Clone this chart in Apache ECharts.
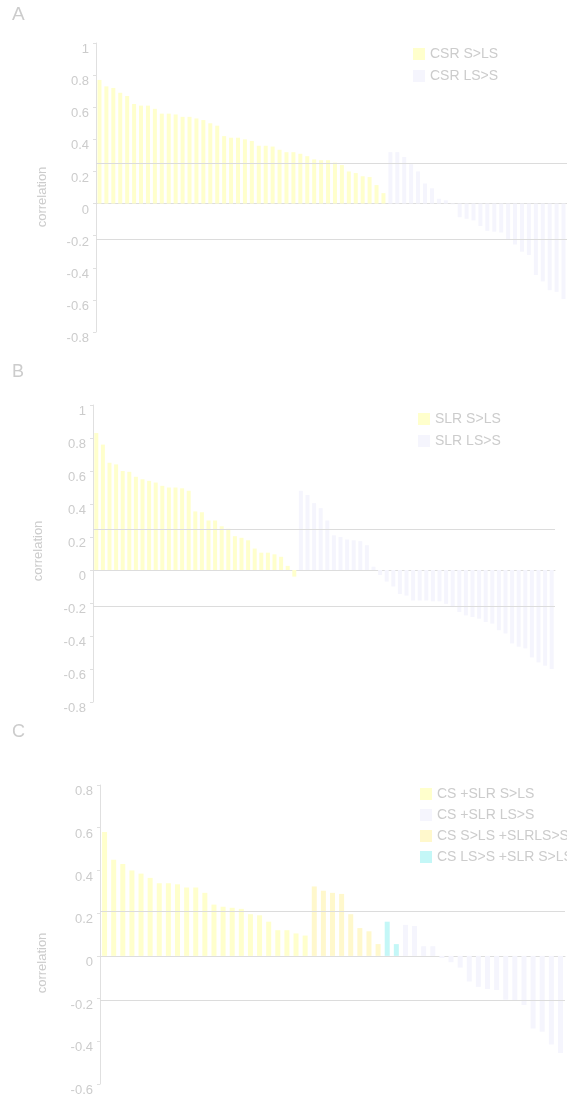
<!DOCTYPE html>
<html>
<head>
<meta charset="utf-8">
<script src="https://cdn.jsdelivr.net/npm/echarts@6/dist/echarts.min.js"></script>
<style>
  html, body { margin: 0; padding: 0; background: #fff; }
  #main { width: 567px; height: 1097px; }
</style>
</head>
<body>
<div id="main"></div>
<script>
// panel A: CSR, bars in axis order
var csrSL = [0.77, 0.73, 0.72, 0.69, 0.67, 0.62, 0.61, 0.61, 0.59, 0.56,
  0.56, 0.555, 0.54, 0.54, 0.53, 0.52, 0.5, 0.485, 0.42, 0.41,
  0.41, 0.4, 0.39, 0.36, 0.36, 0.355, 0.335, 0.32, 0.32, 0.31,
  0.295, 0.275, 0.27, 0.27, 0.255, 0.24, 0.2, 0.19, 0.17, 0.165,
  0.115, 0.065];
var csrLS = [0.32, 0.32, 0.29, 0.245, 0.2, 0.125, 0.095, 0.03, 0.02, -0.005,
  -0.085, -0.095, -0.105, -0.14, -0.17, -0.175, -0.18, -0.225, -0.255, -0.3,
  -0.32, -0.445, -0.485, -0.54, -0.55, -0.595];

// panel B: SLR
var slrSL = [0.83, 0.76, 0.65, 0.64, 0.6, 0.595, 0.565, 0.55, 0.54, 0.53,
  0.51, 0.5, 0.5, 0.495, 0.48, 0.355, 0.35, 0.3, 0.3, 0.265,
  0.25, 0.205, 0.195, 0.18, 0.13, 0.105, 0.105, 0.095, 0.08, 0.025,
  -0.04];
var slrLS = [0.48, 0.455, 0.405, 0.375, 0.3, 0.21, 0.2, 0.185, 0.18, 0.175,
  0.15, 0.02, -0.03, -0.07, -0.1, -0.145, -0.155, -0.185, -0.185, -0.185,
  -0.19, -0.19, -0.205, -0.225, -0.255, -0.275, -0.285, -0.295, -0.315, -0.325,
  -0.365, -0.385, -0.445, -0.465, -0.475, -0.53, -0.56, -0.58, -0.6];

// panel C: CS + SLR
var bothSL = [0.58, 0.45, 0.43, 0.4, 0.385, 0.365, 0.34, 0.34, 0.335, 0.32,
  0.32, 0.295, 0.24, 0.23, 0.225, 0.22, 0.195, 0.19, 0.16, 0.12,
  0.12, 0.105, 0.095];
var mixSL = [0.325, 0.305, 0.295, 0.29, 0.195, 0.13, 0.115, 0.055];
var mixLS = [0.16, 0.055];
var bothLS = [0.145, 0.14, 0.045, 0.045, -0.01, -0.03, -0.055, -0.12, -0.145, -0.155,
  -0.16, -0.205, -0.21, -0.23, -0.34, -0.355, -0.415, -0.455];

// significance lines
var threshA = [0.25, -0.22];
var threshB = [0.25, -0.22];
var threshC = [0.21, -0.21];

var ticksA = [-0.8, 1];
var ticksB = [-0.8, 1];
var ticksC = [-0.6, 0.8];

var myChart = echarts.init(document.getElementById("main"));

var textColor = "#cccccc";
var lineColor = "#e0e0e0";

// spread each group over the full category axis, "-" elsewhere
function pad(groups, k) {
  var out = [];
  groups.forEach(function (g, i) {
    g.forEach(function (v) {
      out.push(i === k ? v : "-");
    });
  });
  return out;
}

function cats(groups) {
  var n = 0;
  groups.forEach(function (g) { n += g.length; });
  var c = [];
  for (var i = 1; i <= n; i++) c.push(String(i));
  return c;
}

function thresholdLine(vals) {
  return {
    silent: true,
    symbol: "none",
    label: { show: false },
    lineStyle: { color: "#dcdcdc", type: "solid", width: 1 },
    data: vals.map(function (v) { return { yAxis: v }; }),
  };
}

function yAxisFor(i, range) {
  return {
    type: "value",
    gridIndex: i,
    min: range[0],
    max: range[1],
    interval: 0.2,
    splitLine: { show: false },
    axisLine: { show: true, lineStyle: { color: lineColor } },
    axisTick: { show: true, length: 3, lineStyle: { color: lineColor } },
    axisLabel: {
      color: textColor,
      fontSize: 13,
      margin: 7,
      verticalAlign: "top",
      fontFamily: "Liberation Sans",
    },
  };
}

function xAxisFor(i, groups) {
  return {
    type: "category",
    gridIndex: i,
    data: cats(groups),
    axisLine: { onZero: true, lineStyle: { color: "#dddddd" } },
    axisTick: { show: false },
    axisLabel: { show: false },
  };
}

function legendFor(names, left, top, gap) {
  return {
    orient: "vertical",
    left: left,
    top: top,
    icon: "rect",
    itemWidth: 12,
    itemHeight: 12,
    itemGap: gap,
    selectedMode: false,
    data: names,
    textStyle: { color: textColor, fontSize: 14, fontFamily: "Liberation Sans" },
  };
}

function bar(name, i, data, color, width) {
  return {
    name: name,
    type: "bar",
    xAxisIndex: i,
    yAxisIndex: i,
    data: data,
    barWidth: width,
    barGap: "-100%",
    itemStyle: { color: color },
  };
}

function label(txt, x, y, size) {
  return {
    type: "text",
    left: x,
    top: y,
    style: { text: txt, fill: textColor, font: size + "px Liberation Sans" },
  };
}

function yName(x, y) {
  return {
    type: "text",
    x: x,
    y: y,
    rotation: Math.PI / 2,
    style: {
      text: "correlation",
      fill: textColor,
      font: "13px Liberation Sans",
      align: "center",
      verticalAlign: "middle",
    },
  };
}

initCharts();
function initCharts() {
  var gA = [csrSL, csrLS];
  var gB = [slrSL, slrLS];
  var gC = [bothSL, mixSL, mixLS, bothLS];

  var yellow = "#ffffcc";
  var lavender = "#f5f5fd";
  var gold = "#fff8cc";
  var cyan = "#c4f7f7";

  var sA1 = bar("CSR S>LS", 0, pad(gA, 0), yellow, 4);
  sA1.markLine = thresholdLine(threshA);
  var sB1 = bar("SLR S>LS", 1, pad(gB, 0), yellow, 4);
  sB1.markLine = thresholdLine(threshB);
  var sC1 = bar("CS +SLR S>LS", 2, pad(gC, 0), yellow, 5);
  sC1.markLine = thresholdLine(threshC);

  var option = {
    backgroundColor: "#ffffff",
    animation: false,
    grid: [
      { left: 96, top: 43, width: 471, height: 289 },
      { left: 93, top: 405, width: 462, height: 297 },
      { left: 100, top: 785, width: 465, height: 302 },
    ],
    xAxis: [xAxisFor(0, gA), xAxisFor(1, gB), xAxisFor(2, gC)],
    yAxis: [yAxisFor(0, ticksA), yAxisFor(1, ticksB), yAxisFor(2, ticksC)],
    legend: [
      legendFor(["CSR S>LS", "CSR LS>S"], 408, 42, 8),
      legendFor(["SLR S>LS", "SLR LS>S"], 413, 407, 8),
      legendFor(["CS +SLR S>LS", "CS +SLR LS>S", "CS S>LS +SLRLS>S", "CS LS>S +SLR S>LS"], 415, 782, 7),
    ],
    graphic: [
      label("A", 12, 5, 19),
      label("B", 12, 363, 18),
      label("C", 12, 723, 18),
      yName(42, 197),
      yName(38, 551),
      yName(42, 963),
    ],
    series: [
      sA1,
      bar("CSR LS>S", 0, pad(gA, 1), lavender, 4),
      sB1,
      bar("SLR LS>S", 1, pad(gB, 1), lavender, 4),
      sC1,
      bar("CS +SLR LS>S", 2, pad(gC, 3), lavender, 5),
      bar("CS S>LS +SLRLS>S", 2, pad(gC, 1), gold, 5),
      bar("CS LS>S +SLR S>LS", 2, pad(gC, 2), cyan, 5),
    ],
  };

  myChart.setOption(option);
}
</script>
</body>
</html>
